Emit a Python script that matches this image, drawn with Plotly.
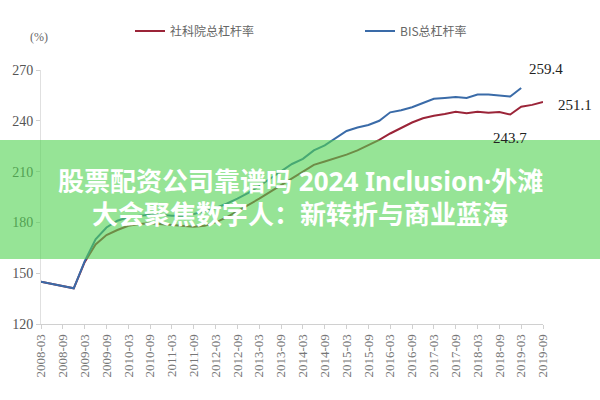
import plotly.graph_objects as go

# ---- data ----
quarters = [f"{y}-{m}" for y in range(2008, 2020) for m in ("03", "06", "09", "12")][:47]
tick_labels = [q for q in quarters if q.endswith("-03") or q.endswith("-09")]

cass_name = "社科院总杠杆率"
bis_name = "BIS总杠杆率"

cass = [145.0, 143.7, 142.4, 141.1, 156.5, 167.0, 172.5, 175.5, 178.0, 179.0,
        179.5, 179.0, 178.5, 178.0, 177.5, 178.0, 180.0, 183.0, 186.5, 190.0,
        194.0, 198.0, 202.0, 206.0, 209.5, 214.0, 216.0, 218.0, 220.0, 222.5,
        225.5, 228.7, 232.5, 236.0, 239.0, 241.5, 243.0, 244.0, 245.4, 244.4,
        245.4, 244.8, 245.2, 243.7, 248.3, 249.4, 251.1]

bis = [145.0, 143.7, 142.4, 141.1, 157.0, 170.0, 177.0, 181.0, 183.0, 184.0,
       184.5, 184.5, 184.0, 184.0, 185.0, 186.5, 188.5, 191.0, 194.0, 197.5,
       201.5, 206.0, 210.5, 214.5, 217.5, 222.5, 225.5, 229.5, 234.0, 236.0,
       237.5, 240.0, 245.0, 246.2, 248.0, 250.5, 253.0, 253.5, 254.0, 253.5,
       255.5, 255.5, 255.0, 254.3, 259.4]

y_ticks = [120, 150, 180, 210, 240, 270]

callouts = [  # (series, quarter, value, text)
    ("bis", "2019-03", 259.4, "259.4"),
    ("cass", "2019-09", 251.1, "251.1"),
    ("cass", "2018-12", 243.7, "243.7"),
]

overlay_lines = ["股票配资公司靠谱吗 2024 Inclusion·外滩", "大会聚焦数字人：新转折与商业蓝海"]

# ---- figure ----
RED = "#9B2438"
BLUE = "#3A6BA8"

fig = go.Figure()
fig.add_trace(go.Scatter(x=quarters[:len(cass)], y=cass, mode="lines", name=cass_name,
                         line=dict(color=RED, width=2)))
fig.add_trace(go.Scatter(x=quarters[:len(bis)], y=bis, mode="lines", name=bis_name,
                         line=dict(color=BLUE, width=2)))

L, R, T, B = 41, 57, 70, 76
W, H = 600, 400
pw, ph = W - L - R, H - T - B

def px_x(p):
    return (p - L) / pw

def px_y(p):
    return (H - B - p) / ph

fig.update_layout(
    width=W, height=H,
    margin=dict(l=L, r=R, t=T, b=B, autoexpand=False),
    paper_bgcolor="white", plot_bgcolor="white",
    showlegend=True,
    legend=dict(orientation="h", x=px_x(130), y=px_y(31), xanchor="left", yanchor="middle",
                font=dict(family="Noto Sans CJK SC", size=12, color="#666"),
                entrywidth=185, entrywidthmode="pixels", bgcolor="rgba(0,0,0,0)"),
    xaxis=dict(type="category", categoryorder="array", categoryarray=quarters,
               range=[0, len(quarters) - 1], tickmode="array",
               tickvals=tick_labels, ticktext=tick_labels, tickangle=-90,
               tickfont=dict(family="Liberation Serif", size=13, color="#777"),
               showgrid=False, zeroline=False, showline=True, linecolor="#d0d0d0",
               linewidth=1, ticks="outside", ticklen=4, tickcolor="#d0d0d0"),
    yaxis=dict(range=[120, 270], tickmode="array", tickvals=y_ticks,
               tickfont=dict(family="Liberation Serif", size=14, color="#555"),
               showgrid=False, zeroline=False, showline=True, linecolor="#e0e0e0",
               linewidth=1, ticks="outside", ticklen=4, tickcolor="#d0d0d0"),
)

fig.add_annotation(text="(%)", xref="paper", yref="paper", x=px_x(39), y=px_y(37),
                   xanchor="center", yanchor="middle", showarrow=False,
                   font=dict(family="Liberation Serif", size=12, color="#666"))

shifts = {"259.4": (25, 19, "center"), "251.1": (13, -3, "left"), "243.7": (0, -23, "center")}
for s, q, v, t in callouts:
    xs, ys, anc = shifts[t]
    fig.add_annotation(x=q, y=v, text=t, showarrow=False, xanchor=anc, xshift=xs, yshift=ys,
                       font=dict(family="Liberation Serif", size=15, color="#222"))

# green overlay band
fig.add_shape(type="rect", xref="paper", yref="paper", x0=px_x(-5), x1=px_x(605),
              y0=px_y(259), y1=px_y(140), line=dict(width=0),
              fillcolor="rgba(80,210,80,0.6)", layer="above")

for txt, yy in zip(overlay_lines, (181, 214)):
    fig.add_annotation(text=f"<b>{txt}</b>", xref="paper", yref="paper", x=px_x(300), y=px_y(yy),
                       xanchor="center", yanchor="middle", showarrow=False,
                       font=dict(family="Noto Sans, Noto Sans CJK SC", size=26, color="white"))

fig.write_html("out.html")
